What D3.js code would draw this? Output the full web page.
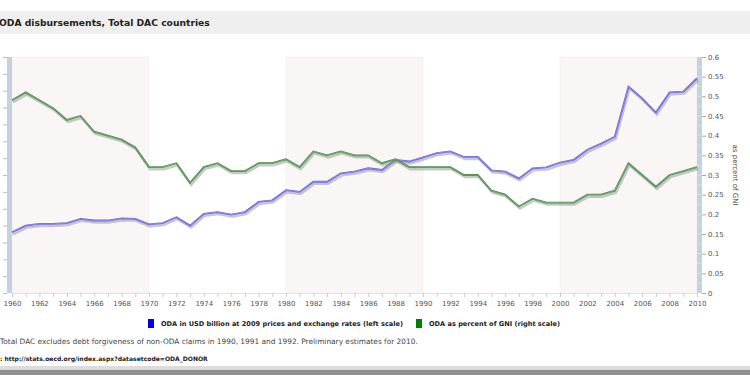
<!DOCTYPE html>
<html>
<head>
<meta charset="utf-8">
<script src="https://cdn.jsdelivr.net/npm/d3@7"></script>
<style>
  body { margin: 0; background: #fff; }
  svg { display: block; }
</style>
</head>
<body>
<svg width="750" height="375"></svg>
<script>
// years 1960..2010
const years = d3.range(1960, 2011)

// ODA in USD billion at 2009 prices (left scale)
const odaUsd = [36, 40, 41, 41, 41.5, 44, 43, 43, 44.3, 44, 40.7,
    41.5, 45, 40, 47, 48, 46.5, 48, 54, 55, 61,
    60, 66, 66, 71, 72, 74, 73, 79, 78, 80.5,
    83, 84, 80.7, 80.7, 72.8, 72, 68, 74, 74.5, 77.3,
    79, 85, 88.6, 92.7, 122.4, 115.5, 107, 119, 119.5, 127.4]

// ODA as percent of GNI (right scale)
const odaGni = [0.49, 0.51, 0.49, 0.47, 0.44, 0.45, 0.41, 0.40, 0.39, 0.37, 0.32,
    0.32, 0.33, 0.28, 0.32, 0.33, 0.31, 0.31, 0.33, 0.33, 0.34,
    0.32, 0.36, 0.35, 0.36, 0.35, 0.35, 0.33, 0.34, 0.32, 0.32,
    0.32, 0.32, 0.30, 0.30, 0.26, 0.25, 0.22, 0.24, 0.23, 0.23,
    0.23, 0.25, 0.25, 0.26, 0.33, 0.30, 0.27, 0.30, 0.31, 0.32]

const rightTicks = [0, 0.05, 0.1, 0.15, 0.2, 0.25, 0.3, 0.35, 0.4, 0.45, 0.5, 0.55, 0.6]
const bands = [[1960, 1970], [1980, 1990], [2000, 2010]]

const title = 'ODA disbursements, Total DAC countries'
const legendLabels = ['ODA in USD billion at 2009 prices and exchange rates  (left scale)',
    'ODA as percent of GNI (right scale)']
const note = 'Total DAC excludes debt forgiveness of non-ODA claims in 1990, 1991 and 1992. Preliminary estimates for 2010.'
const source = ': http://stats.oecd.org/index.aspx?datasetcode=ODA_DONOR'

const font = '"DejaVu Sans", Verdana, sans-serif'
const svg = d3.select('svg').style('font-family', font)

const plot = {left: 12, right: 697, top: 57, bottom: 293}

const x = d3.scaleLinear().domain([1960, 2010]).range([plot.left, plot.right])
const yL = d3.scaleLinear().domain([0, 140]).range([plot.bottom, plot.top])
const yR = d3.scaleLinear().domain([0, 0.6]).range([plot.bottom, plot.top])

// title bar
svg.append('rect').attr('x', 0).attr('y', 11).attr('width', 750).attr('height', 23).attr('fill', '#efefef')
svg.append('text').attr('x', -1).attr('y', 26)
    .style('font-size', '9.2px').style('font-weight', 'bold').attr('fill', '#222')
    .text(title)

// decade bands
svg.append('g').selectAll('rect')
    .data(bands)
    .join('rect')
        .attr('x', d => x(d[0]))
        .attr('y', plot.top)
        .attr('width', d => x(d[1]) - x(d[0]))
        .attr('height', plot.bottom - plot.top)
        .attr('fill', '#faf6f6')
        .attr('stroke', '#f0e9e9')
        .attr('stroke-width', 0.5)

// x axis
const xAxis = svg.append('g')
    .attr('transform', `translate(0, ${plot.bottom})`)
    .call(d3.axisBottom(x)
        .tickValues(years)
        .tickSize(4)
        .tickFormat(d => d % 2 === 0 ? d : ''))
xAxis.select('.domain').attr('stroke', '#dde3ea')
xAxis.selectAll('.tick line').attr('stroke', '#ccc')
xAxis.selectAll('.tick text').attr('fill', '#555').style('font-size', '7px').style('font-family', font).attr('dy', '0.9em')

// left axis bar
svg.append('rect').attr('x', 7).attr('y', plot.top).attr('width', 5).attr('height', plot.bottom - plot.top).attr('fill', '#c3d1e1')
const leftAxis = svg.append('g')
    .attr('transform', 'translate(7, 0)')
    .call(d3.axisLeft(yL).ticks(14).tickSize(4).tickFormat(''))
leftAxis.select('.domain').remove()
leftAxis.selectAll('.tick line').attr('stroke', '#bbb')

// right axis bar
svg.append('rect').attr('x', plot.right).attr('y', plot.top).attr('width', 5).attr('height', plot.bottom - plot.top).attr('fill', '#c3d1e1')
svg.append('g').selectAll('line')
    .data(d3.range(0, 0.6, 0.025))
    .join('line')
        .attr('x1', plot.right).attr('x2', plot.right + 5)
        .attr('y1', d => yR(d)).attr('y2', d => yR(d))
        .attr('stroke', '#dbe4ee').attr('stroke-width', 0.8)
const rightAxis = svg.append('g')
    .attr('transform', `translate(${plot.right + 5}, 0)`)
    .call(d3.axisRight(yR).tickValues(rightTicks).tickSize(4).tickFormat(d => d3.format('~g')(d)))
rightAxis.select('.domain').remove()
rightAxis.selectAll('.tick line').attr('stroke', '#aaa')
rightAxis.selectAll('.tick text').attr('fill', '#555').style('font-size', '7px').style('font-family', font).attr('x', 6)

svg.append('text')
    .attr('transform', `translate(733, 175) rotate(90)`)
    .attr('text-anchor', 'middle')
    .style('font-size', '7px').attr('fill', '#444')
    .text('as percent of GNI')

// lines
const series = [
    {values: odaUsd, y: yL, color: '#5c5cdc', light: '#b8b8ff'},
    {values: odaGni, y: yR, color: '#3d843d', light: '#a9d6a9'}
]

series.forEach(s => {
    const line = d3.line()
        .x((d, i) => x(years[i]))
        .y(d => s.y(d))
    const g = svg.append('g')
    g.append('path').attr('d', line(s.values))
        .attr('fill', 'none').attr('stroke', '#888').attr('stroke-opacity', 0.45)
        .attr('stroke-width', 2.5).attr('transform', 'translate(1, 2)')
    g.append('path').attr('d', line(s.values))
        .attr('fill', 'none').attr('stroke', s.color).attr('stroke-width', 1.8)
    g.append('path').attr('d', line(s.values))
        .attr('fill', 'none').attr('stroke', s.light).attr('stroke-width', 0.5)
})

// legend
const legendPos = [148, 416]
const legendColors = ['#0000ee', '#008000']
const legend = svg.append('g')
    .selectAll('g')
    .data(legendLabels)
    .join(
        enter => {
            const g = enter.append('g')
                .attr('transform', (d, i) => `translate(${legendPos[i]}, 319)`)
            g.append('rect').attr('width', 6).attr('height', 9).attr('fill', (d, i) => legendColors[i])
            g.append('text').attr('x', 13).attr('y', 7)
                .style('font-size', '6.6px').style('font-weight', 'bold').attr('fill', '#222')
                .text(d => d)
            return g
        }
    )

svg.append('text').attr('x', 0).attr('y', 344)
    .style('font-size', '7.4px').attr('fill', '#444')
    .text(note)
svg.append('text').attr('x', 0).attr('y', 361)
    .style('font-size', '6.05px').style('font-weight', 'bold').attr('fill', '#222')
    .text(source)

// bottom border
svg.append('rect').attr('x', 0).attr('y', 366).attr('width', 750).attr('height', 4).attr('fill', '#dcdcdc')
svg.append('rect').attr('x', 0).attr('y', 370).attr('width', 750).attr('height', 5).attr('fill', '#8f8f8f')
</script>
</body>
</html>
